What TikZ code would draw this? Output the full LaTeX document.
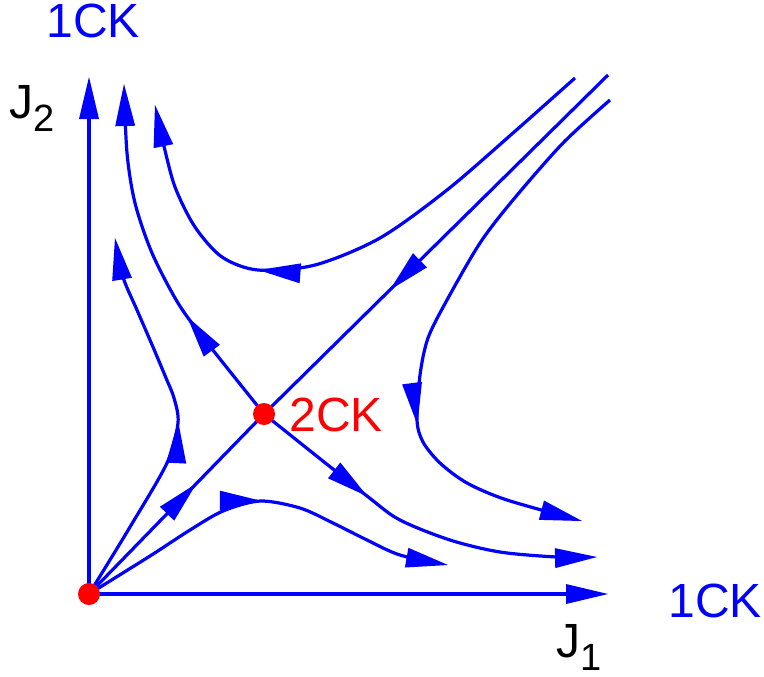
\documentclass[tikz,border=0pt]{standalone}
\usepackage{fontspec}
\setmainfont{Liberation Sans}
\usetikzlibrary{arrows.meta, decorations.markings}
\newcommand{\sublbl}[1]{\raisebox{-6.5pt}{\fontsize{19}{21}\selectfont #1}}

\begin{document}
\begin{tikzpicture}[x=0.5pt, y=-0.5pt,
    font=\fontsize{24}{28}\selectfont,
    >={Triangle[length=21pt, width=10pt, line width=0pt]},
    seg/.style={blue, line width=1.6pt},
    midarrow/.style={postaction={decorate, decoration={markings,
        mark=at position #1 with {\arrow{>}}}}},
    fixpt/.style={circle, fill=red, inner sep=0pt, minimum size=11pt},
    lbl/.style={inner sep=0pt}]
    \useasboundingbox (0,0) rectangle (764,676);
    \coordinate (O) at (89,594);
    \coordinate (P) at (264,414);
    \coordinate (ytip) at (89,77);
    \coordinate (xtip) at (608,594);
    \coordinate (NE) at (608,75);
    % axes
    \draw[seg, ->] (O) -- (ytip);
    \draw[seg, ->] (O) -- (xtip);
    % diagonal through 2CK
    \draw[seg, midarrow=77pt] (O) -- (P);
    \draw[seg, midarrow=153pt] (NE) -- (P);
    % separatrix out of 2CK
    \draw[seg, ->, midarrow=62pt] plot[smooth] coordinates
        {(P) (205,340) (178,303) (152,253) (135,203) (127,153) (124,84)};
    \draw[seg, ->, midarrow=66pt] plot[smooth] coordinates
        {(P) (367,496) (400,520) (450,540) (500,552) (557,557) (597,557)};
    % upper left
    \coordinate (u0) at (575,78);
    \draw[seg, ->, midarrow=190pt] plot[smooth] coordinates
        {(u0) (513,133) (447,190) (380,238) (315,265) (258,270)
         (222,257) (195,227) (175,187) (163,142) (155,105)};
    % lower right
    \coordinate (r0) at (610,100);
    \draw[seg, ->, midarrow=195pt] plot[smooth] coordinates
        {(r0) (563,143) (513,200) (480,243) (447,300) (428,338) (420,375)
         (417,420) (423,442) (440,463) (467,483) (507,500) (582,521)};
    % out of the origin
    \draw[seg, ->, midarrow=98pt] plot[smooth] coordinates
        {(O) (130,527) (167,463) (178,423) (174,398) (166,378) (153,347)
         (137,310) (123,277) (115,238)};
    \draw[seg, ->, midarrow=99pt] plot[smooth] coordinates
        {(O) (150,556) (190,530) (223,511) (260,501) (300,508) (333,523)
         (367,540) (400,555) (448,565)};
    % fixed points
    \node[fixpt] (dotO) at (O) {};
    \node[fixpt] (dotP) at (P) {};
    % labels
    \node[lbl, blue] (ck1y) at (93,21) {1CK};
    \node[lbl, blue] (ck1x) at (715,601) {1CK};
    \node[lbl, red] (ck2) at (336,415) {2CK};
    \node[lbl, anchor=base west] (j2) at (9,118) {J\sublbl{2}};
    \node[lbl, anchor=base west] (j1) at (556,657) {J\sublbl{1}};
\end{tikzpicture}
\end{document}
